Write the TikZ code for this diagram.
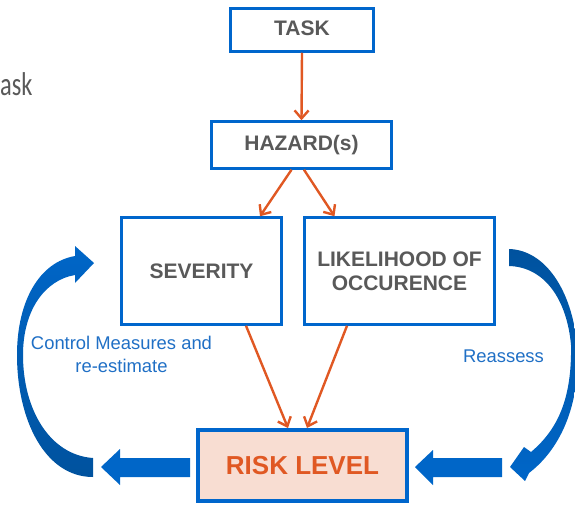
\documentclass[tikz,border=0pt]{standalone}
\usepackage{fontspec}
\setmainfont{Liberation Sans}
\newfontfamily\slidefont{Carlito}
\usepackage{xcolor}
\usetikzlibrary{arrows.meta, calc}

\definecolor{boxblue}{RGB}{0,102,204}
\definecolor{arrowblue}{RGB}{0,102,200}
\definecolor{darkblue}{RGB}{0,82,158}
\definecolor{riskorange}{RGB}{224,88,35}
\definecolor{textgray}{RGB}{89,89,89}
\definecolor{riskfill}{RGB}{248,221,210}
\definecolor{noteblue}{RGB}{31,111,197}

\begin{document}
\begin{tikzpicture}[x=1pt, y=-1pt,
  box/.style={rectangle, draw=boxblue, line width=2.5pt, fill=white, align=center, text=textgray, font=\fontsize{21}{24}\selectfont\bfseries},
  arrow/.style={-{Straight Barb[length=8pt,width=14pt]}, line width=2.4pt, draw=riskorange},
  note/.style={align=center, text=noteblue, font=\fontsize{18.4}{23}\selectfont},
  blockarrow/.style={fill=arrowblue, draw=none}
]

\useasboundingbox (0,0) rectangle (575,506);

%% Slide title remnant
\node[anchor=base west, inner sep=0pt, xscale=0.74, transform shape, text=textgray,
      font=\slidefont\fontsize{33}{36}\selectfont] (title) at (0,95) {ask};

%% Boxes
\node[box, minimum width=143pt, minimum height=43pt, text depth=3pt] (task) at (302,30) {TASK};
\node[box, minimum width=180pt, minimum height=47pt] (hazard) at (301.5,145) {HAZARD(s)};
\node[box, minimum width=160pt, minimum height=107pt] (sev) at (201.5,271) {SEVERITY};
\node[box, minimum width=190pt, minimum height=107pt] (lik) at (399.5,271) {LIKELIHOOD OF\\OCCURENCE};
\node[box, line width=4pt, fill=riskfill, text=riskorange, minimum width=209pt, minimum height=71pt,
      font=\fontsize{26}{30}\selectfont\bfseries] (risk) at (302.5,465.5) {RISK LEVEL};

%% Arrows
\draw[arrow] (task.south) -- (hazard.north);
\draw[arrow] ([xshift=-10pt]hazard.south) -- ([xshift=58.5pt]sev.north);
\draw[arrow] ([xshift=2.5pt]hazard.south) -- ([xshift=-65pt]lik.north);
\draw[arrow] ([xshift=44.5pt]sev.south) -- ([xshift=-14.5pt]risk.north);
\draw[arrow] ([xshift=-52.5pt]lik.south) -- ([xshift=4.5pt]risk.north);

%% Feedback arrows
\fill[blockarrow] (190,458) -- (120,458) -- (120,449) -- (101,467) -- (120,485) -- (120,477) -- (190,477) -- cycle;
\fill[blockarrow] (502,458) -- (433,458) -- (433,450) -- (415,467) -- (433,485) -- (433,477) -- (502,477) -- cycle;

\shade[top color=arrowblue, bottom color=darkblue]
  (93,477) -- (93,458) .. controls (50,455) and (23,410) .. (23,355)
  .. controls (23,310) and (45,280) .. (75,275) -- (75,283) -- (94,263) -- (75,246) -- (75,256)
  .. controls (40,262) and (17,300) .. (17,355) .. controls (17,420) and (45,477) .. (93,477) -- cycle;

\shade[top color=darkblue, bottom color=arrowblue]
  (509,249) .. controls (545,250) and (572,290) .. (577,345) .. controls (581,400) and (563,447) .. (529,473)
  -- (525,481) -- (510,467) -- (524,447) -- (531,452)
  .. controls (557,430) and (572,400) .. (571,345) .. controls (567,300) and (545,267) .. (509,266) -- cycle;

%% Labels
\node[note] (control) at (121.5,354) {Control Measures and\\re-estimate};
\node[note] (reassess) at (503.5,356.5) {Reassess};

\end{tikzpicture}
\end{document}
